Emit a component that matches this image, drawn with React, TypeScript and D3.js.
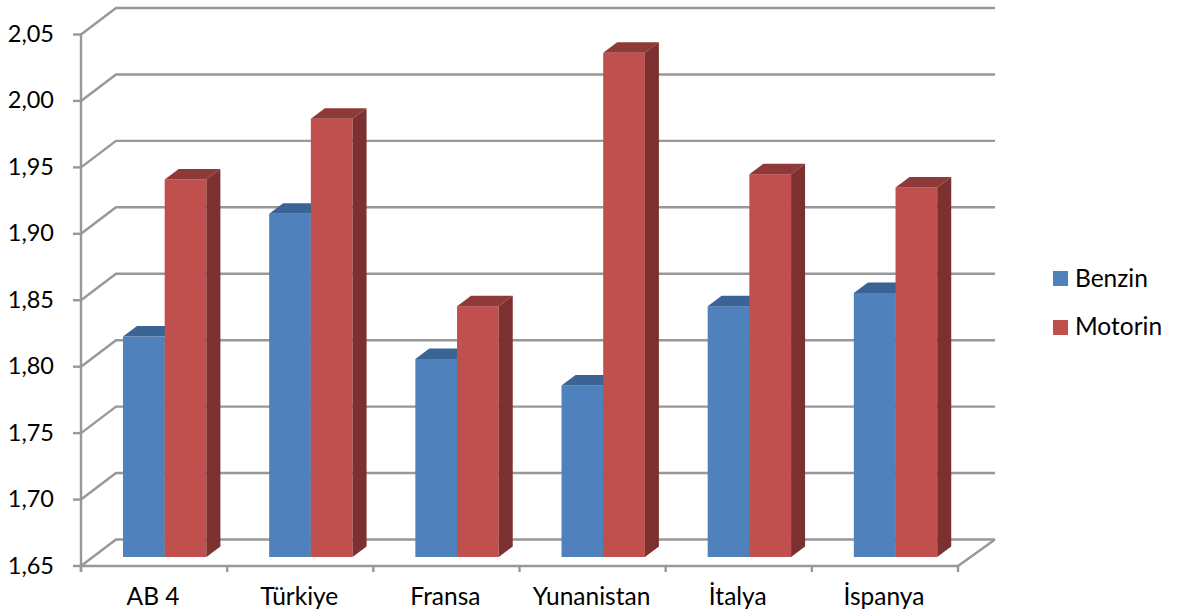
import React from "react";
import * as d3 from "d3";

const categories = ["AB 4", "Türkiye", "Fransa", "Yunanistan", "İtalya", "İspanya"];
const benzin = [1.817, 1.91, 1.8, 1.78, 1.84, 1.85];
const motorin = [1.936, 1.982, 1.84, 2.032, 1.94, 1.93];
const ticks = [1.65, 1.7, 1.75, 1.8, 1.85, 1.9, 1.95, 2.0, 2.05];
const seriesNames = ["Benzin", "Motorin"];
const front = ["#4F81BD", "#C0504D"];
const top = ["#3B6494", "#8F3A38"];
const side = ["#345A87", "#7C3130"];

const FONT = "Lato, Carlito, sans-serif";
const GRID = "#989898";

export default function App() {
  const y = d3.scaleLinear().domain([1.65, 2.05]).range([566, 34.5]);
  const yBar = d3.scaleLinear().domain([1.65, 2.05]).range([557, 29]);
  const x = d3.scaleBand<string>().domain(categories).range([81, 958]);
  const wallDx = 35;
  const wallDy = -26.5;
  const depthX = 14;
  const depthY = -10.5;
  const barW = 41.7;

  const bars = categories.flatMap((c, i) =>
    [benzin[i], motorin[i]].map((v, s) => {
      const x0 = (x(c) as number) + 42 + s * barW;
      const x1 = x0 + barW;
      const yt = yBar(v);
      const yb = yBar(1.65);
      return (
        <g key={c + s}>
          <rect x={x0} y={yt} width={barW} height={yb - yt} fill={front[s]} />
          <polygon points={`${x0},${yt} ${x0 + depthX},${yt + depthY} ${x1 + depthX},${yt + depthY} ${x1},${yt}`} fill={top[s]} />
          <polygon points={`${x1},${yt} ${x1 + depthX},${yt + depthY} ${x1 + depthX},${yb + depthY} ${x1},${yb}`} fill={side[s]} />
        </g>
      );
    })
  );

  return (
    <svg width={1177} height={614} style={{ position: "absolute", left: 0, top: 0, background: "#fff" }}>
      <g fill="none" stroke={GRID} strokeWidth={2.4}>
        {ticks.map((t) => (
          <polyline key={t} points={`81,${y(t)} ${81 + wallDx},${y(t) + wallDy} 995,${y(t) + wallDy}`} />
        ))}
        <polyline points={`958,566 995,${566 + wallDy}`} />
        <line x1={81} x2={81} y1={y(2.05)} y2={572} />
        <line x1={81} x2={958} y1={566} y2={566} />
        {ticks.map((t) => (
          <line key={t} x1={73} x2={81} y1={y(t)} y2={y(t)} />
        ))}
        {d3.range(categories.length + 1).map((i) => (
          <line key={i} x1={81 + i * x.step()} x2={81 + i * x.step()} y1={566} y2={572} />
        ))}
      </g>
      {bars}
      <g fontFamily={FONT} fill="#000">
        {ticks.map((t) => (
          <text key={t} x={54} y={y(t) + 7.5} textAnchor="end" fontSize={23.5}>
            {t.toFixed(2).replace(".", ",")}
          </text>
        ))}
        {categories.map((c) => (
          <text key={c} x={(x(c) as number) + x.bandwidth() / 2 - 1} y={605} textAnchor="middle" fontSize={24.5}>
            {c}
          </text>
        ))}
        {seriesNames.map((n, i) => (
          <g key={n}>
            <rect x={1053} y={271 + i * 49} width={15} height={15} fill={front[i]} />
            <text x={1075} y={286.5 + i * 48} fontSize={24.5}>{n}</text>
          </g>
        ))}
      </g>
    </svg>
  );
}
